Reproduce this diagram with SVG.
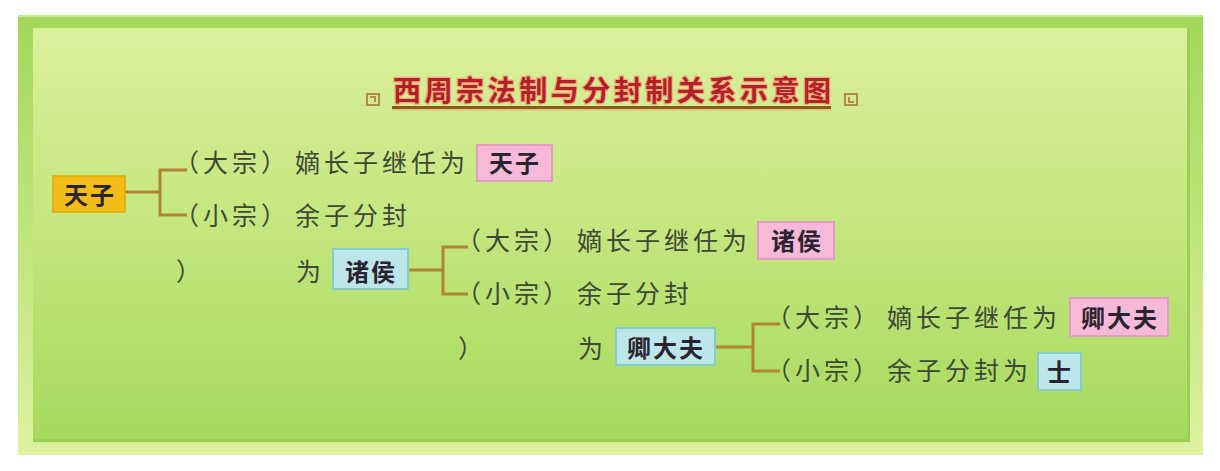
<svg xmlns="http://www.w3.org/2000/svg" width="1220" height="471" viewBox="0 0 1220 471">
  <defs>
    <linearGradient id="gOuter" x1="0" y1="0" x2="0" y2="1">
      <stop offset="0" stop-color="#a3d85a"/>
      <stop offset="1" stop-color="#ddf19e"/>
    </linearGradient>
    <linearGradient id="gInner" x1="0" y1="0" x2="0" y2="1">
      <stop offset="0" stop-color="#dbf09c"/>
      <stop offset="0.5" stop-color="#c3e67e"/>
      <stop offset="1" stop-color="#a6d95d"/>
    </linearGradient>
    <style>
      .t{font-family:"Noto Sans CJK SC","Noto Sans CJK JP",sans-serif;font-size:25px;fill:#3e4834;letter-spacing:4px}
      .b{font-family:"Noto Sans CJK SC","Noto Sans CJK JP",sans-serif;font-size:24px;font-weight:bold;fill:#2a2430;text-anchor:middle;letter-spacing:2px}
      .title{font-family:"Noto Sans CJK SC","Noto Sans CJK JP",sans-serif;font-size:28px;font-weight:bold;fill:#b3202a;stroke:#eeb07a;stroke-width:2.5px;paint-order:stroke;stroke-linejoin:round}
      .conn{fill:none;stroke:#b08432;stroke-width:3}
      .orange{fill:#f4bc16;stroke:#e2a60a;stroke-width:1.5}
      .pink{fill:#f6bad8;stroke:#e39cc2;stroke-width:2}
      .blue{fill:#bde6ea;stroke:#86cccb;stroke-width:2}
      .deco{fill:none;stroke:#b08a48;stroke-width:2}
    </style>
  </defs>

  <rect x="0" y="0" width="1220" height="471" fill="#ffffff"/>
  <g id="frame">
    <rect x="18" y="15" width="1185" height="440" fill="url(#gOuter)"/>
    <rect x="18" y="15" width="1185" height="2" fill="#c6e79a"/>
    <rect x="33" y="28" width="1157" height="414" fill="url(#gInner)"/>
    <rect x="1187" y="28" width="3" height="414" fill="#9ccf55"/>
    <rect x="33" y="439" width="1157" height="3" fill="#9ccf55"/>
  </g>

  <g id="title">
    <g class="deco">
      <rect x="367" y="94" width="12" height="11"/>
      <path d="M370 97 h5 v5"/>
      <rect x="845" y="94" width="12" height="11"/>
      <path d="M854 102 h-5 v-5"/>
    </g>
    <text class="title" x="393" y="101" textLength="438" lengthAdjust="spacing">西周宗法制与分封制关系示意图</text>
    <line x1="392" y1="107.5" x2="831" y2="107.5" stroke="#8a5a1c" stroke-width="3"/>
    <line x1="392" y1="110" x2="831" y2="110" stroke="#e8c080" stroke-width="1.5"/>
  </g>

  <g id="connectors">
    <path class="conn" d="M125 192 H160 M187 170 H160 V215 H187"/>
    <path class="conn" d="M408 270 H443 M468 247 H443 V294 H468"/>
    <path class="conn" d="M715 347 H753 M780 324 H753 V371 H780"/>
  </g>

  <g id="node-tianzi-root">
    <rect class="orange" x="53" y="176" width="72" height="36"/>
    <text class="b" x="90" y="204">天子</text>
  </g>

  <g id="node-l1-dazong">
    <text class="t" x="174" y="172">（大宗）</text>
    <text class="t" x="295" y="172">嫡长子继任为</text>
  </g>
  <g id="node-l1-tianzi">
    <rect class="pink" x="477" y="145" width="75" height="36"/>
    <text class="b" x="515" y="172">天子</text>
  </g>
  <g id="node-l1-xiaozong">
    <text class="t" x="174" y="225">（小宗）</text>
    <text class="t" x="295" y="225">余子分封</text>
    <text class="t" x="176" y="281">）</text>
    <text class="t" x="296" y="281">为</text>
  </g>
  <g id="node-l1-zhuhou">
    <rect class="blue" x="333" y="249" width="75" height="40"/>
    <text class="b" x="371" y="281">诸侯</text>
  </g>

  <g id="node-l2-dazong">
    <text class="t" x="456" y="250">（大宗）</text>
    <text class="t" x="577" y="250">嫡长子继任为</text>
  </g>
  <g id="node-l2-zhuhou">
    <rect class="pink" x="758" y="222" width="76" height="37"/>
    <text class="b" x="797" y="250">诸侯</text>
  </g>
  <g id="node-l2-xiaozong">
    <text class="t" x="456" y="303">（小宗）</text>
    <text class="t" x="577" y="303">余子分封</text>
    <text class="t" x="458" y="358">）</text>
    <text class="t" x="578" y="358">为</text>
  </g>
  <g id="node-l2-qingdafu">
    <rect class="blue" x="616" y="328" width="99" height="37"/>
    <text class="b" x="666" y="357">卿大夫</text>
  </g>

  <g id="node-l3-dazong">
    <text class="t" x="766" y="327">（大宗）</text>
    <text class="t" x="887" y="327">嫡长子继任为</text>
  </g>
  <g id="node-l3-qingdafu">
    <rect class="pink" x="1070" y="298" width="98" height="38"/>
    <text class="b" x="1120" y="327">卿大夫</text>
  </g>
  <g id="node-l3-xiaozong">
    <text class="t" x="766" y="380">（小宗）</text>
    <text class="t" x="887" y="380">余子分封为</text>
  </g>
  <g id="node-l3-shi">
    <rect class="blue" x="1038" y="353" width="43" height="37"/>
    <text class="b" x="1060" y="381">士</text>
  </g>
</svg>
